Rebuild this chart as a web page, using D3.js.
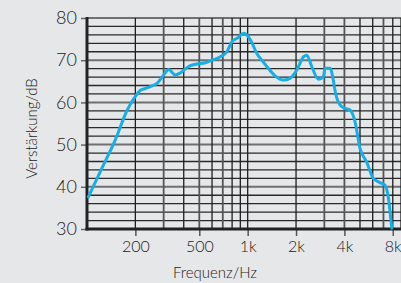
<!DOCTYPE html>
<html>
<head>
<meta charset="utf-8">
<script src="https://cdn.jsdelivr.net/npm/d3@7"></script>
<style>
  html, body { margin: 0; padding: 0; background: #e6e7e9; }
  svg { display: block; }
  text { font-family: Lato, "Open Sans", sans-serif; font-weight: 300; fill: #1a1a1a; }
</style>
</head>
<body>
<svg id="chart" width="401" height="283"></svg>
<script>
// Frequency response data (Hz, dB)
const freqHz = [102, 121, 150, 178, 200, 215, 231, 254, 273, 300, 322, 355, 381, 429, 483, 545, 600, 675, 743, 798, 877, 942, 989, 1060, 1140, 1225, 1316, 1482, 1668, 1835, 2022, 2224, 2333, 2506, 2754, 2959, 3030, 3253, 3411, 3494, 3756, 4034, 4335, 4660, 5004, 5500, 6045, 6653, 7146, 7497, 7880];
const gainDb = [37.6, 43.6, 51.1, 58.2, 61.4, 62.9, 63.3, 63.9, 64.5, 66.5, 67.8, 66.5, 67.0, 68.5, 69.1, 69.4, 70.0, 70.8, 72.0, 74.4, 75.4, 76.4, 76.0, 74.2, 71.6, 70.0, 68.5, 66.3, 65.3, 65.7, 67.7, 70.8, 71.2, 68.5, 65.5, 66.1, 68.1, 68.1, 65.3, 62.9, 59.4, 58.6, 58.2, 55.4, 49.1, 45.9, 42.0, 41.0, 40.4, 37.6, 30.2];

const xTickValues = [200, 500, 1000, 2000, 4000, 8000];
const xTickLabels = ["200", "500", "1k", "2k", "4k", "8k"];
const yTickValues = [30, 40, 50, 60, 70, 80];
const xGridValues = [100, 200, 300, 400, 500, 600, 700, 800, 900, 1000, 2000, 3000, 4000, 5000, 6000, 7000, 8000, 9000];
const yGridValues = d3.range(30, 81, 2);

const svg = d3.select("#chart");
const pL = 87, pR = 401, pT = 18, pB = 229;

const x = d3.scaleLog().domain([100, 9000]).range([pL, pR]);
const y = d3.scaleLinear().domain([30, 80]).range([pB, pT]);

const greyX = [300, 500, 700, 3000, 4000, 7000];

// Horizontal grid
svg.append("g").selectAll("line").data(yGridValues).join("line")
  .attr("x1", pL).attr("x2", pR)
  .attr("y1", d => y(d)).attr("y2", d => y(d))
  .attr("stroke", d => d % 10 === 0 ? "#707070" : "#2a2a2a")
  .attr("stroke-width", d => d % 10 === 0 ? 2 : 1.3);

// Vertical grid
svg.append("g").selectAll("line").data(xGridValues).join("line")
  .attr("x1", d => x(d)).attr("x2", d => x(d))
  .attr("y1", pT).attr("y2", pB)
  .attr("stroke", d => greyX.includes(d) ? "#555" : "#1e1e1e")
  .attr("stroke-width", d => greyX.includes(d) ? 1.8 : 1.3);

// Y axis
const yAxis = d3.axisLeft(y).tickValues(yTickValues).tickSize(6).tickPadding(4);
const gy = svg.append("g").attr("transform", `translate(${pL},0)`).call(yAxis);
gy.select(".domain").remove();
gy.selectAll(".tick line").attr("stroke", "#666").attr("stroke-width", 1.5);
gy.selectAll(".tick text").style("font-size", "18px").style("fill", "#1a1a1a");

// X axis
const xAxis = d3.axisBottom(x).tickValues(xTickValues)
  .tickFormat((d, i) => xTickLabels[i]).tickSize(7).tickPadding(5);
const gx = svg.append("g").attr("transform", `translate(0,${pB})`).call(xAxis);
gx.select(".domain").remove();
gx.selectAll(".tick line").attr("stroke", "#555").attr("stroke-width", 1.5);
gx.selectAll(".tick text").style("font-size", "16px").style("fill", "#1a1a1a");

// Frame: thick left and bottom
svg.append("line").attr("x1", pL).attr("x2", pL).attr("y1", pT - 1).attr("y2", pB + 1.5)
  .attr("stroke", "#222").attr("stroke-width", 3);
svg.append("line").attr("x1", pL - 1.5).attr("x2", pR).attr("y1", pB).attr("y2", pB)
  .attr("stroke", "#222").attr("stroke-width", 3);

// Curve
const line = d3.line()
  .x((d, i) => x(freqHz[i]))
  .y((d, i) => y(gainDb[i]))
  .curve(d3.curveMonotoneX);
svg.append("path").datum(gainDb)
  .attr("d", line)
  .attr("fill", "none")
  .attr("stroke", "#17ade6")
  .attr("stroke-width", 3)
  .attr("stroke-linejoin", "round")
  .attr("stroke-linecap", "round");

// Axis titles
svg.append("text")
  .attr("transform", `translate(37,${(pT + pB) / 2 + 5}) rotate(-90)`)
  .attr("text-anchor", "middle")
  .style("font-size", "15px")
  .text("Verstärkung/dB");
svg.append("text")
  .attr("x", 215).attr("y", 278)
  .attr("text-anchor", "middle")
  .style("font-size", "15px")
  .text("Frequenz/Hz");
</script>
</body>
</html>
